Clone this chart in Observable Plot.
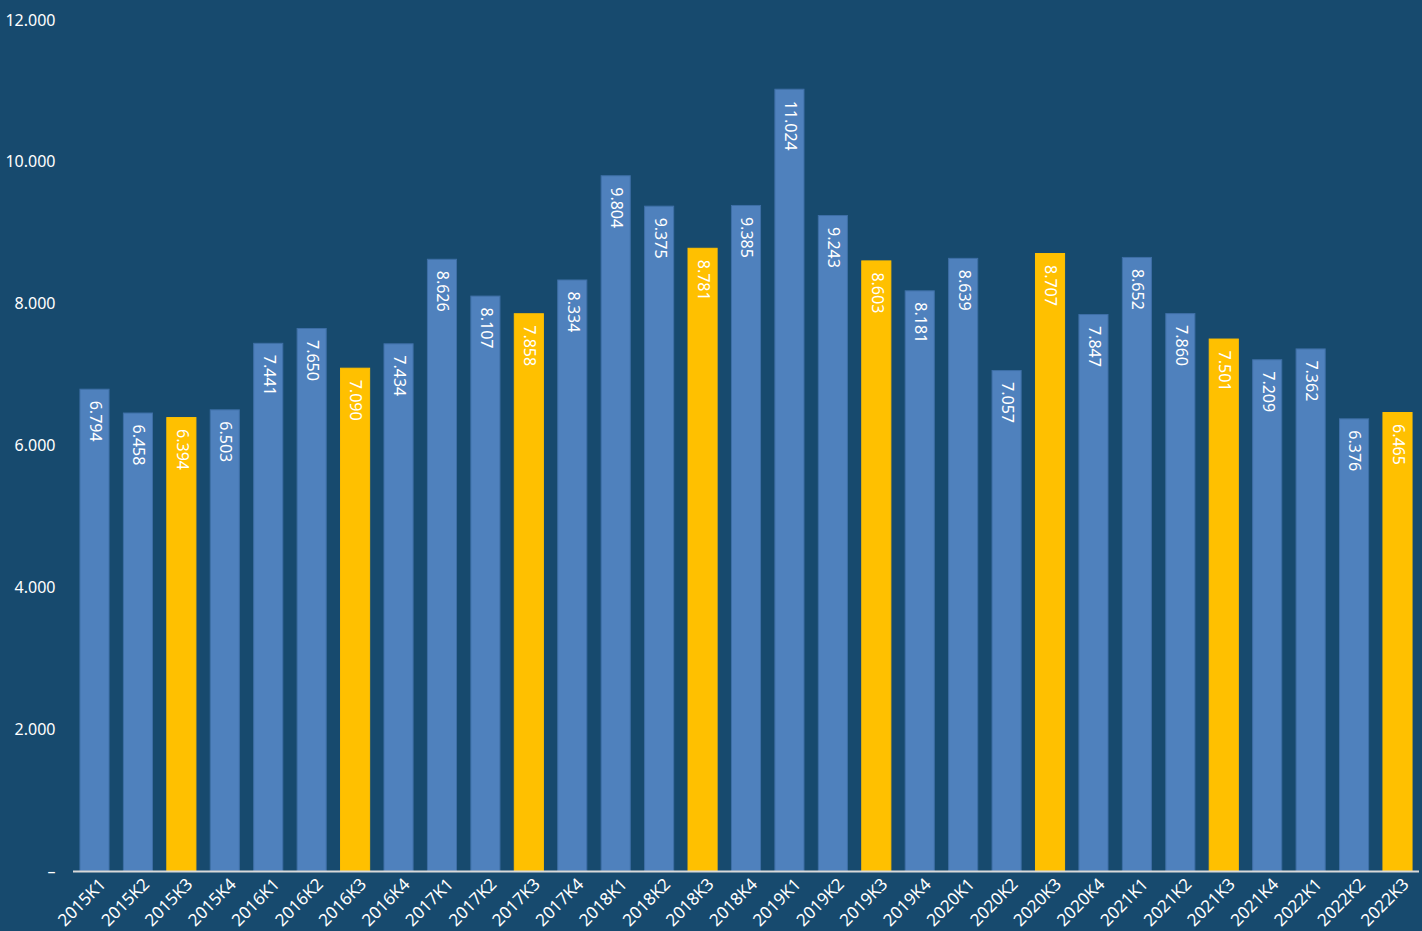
<!DOCTYPE html>
<html>
<head>
<meta charset="utf-8">
<script src="https://cdn.jsdelivr.net/npm/d3@7"></script>
<script src="https://cdn.jsdelivr.net/npm/@observablehq/plot@0.6"></script>
<style>
  html, body { margin: 0; padding: 0; background: #174a6e; }
  #chart svg { display: block; }
</style>
</head>
<body>
<div id="chart"></div>
<script>
const periods = [
  "2015K1","2015K2","2015K3","2015K4",
  "2016K1","2016K2","2016K3","2016K4",
  "2017K1","2017K2","2017K3","2017K4",
  "2018K1","2018K2","2018K3","2018K4",
  "2019K1","2019K2","2019K3","2019K4",
  "2020K1","2020K2","2020K3","2020K4",
  "2021K1","2021K2","2021K3","2021K4",
  "2022K1","2022K2","2022K3"
];
const values = [
  6794, 6458, 6394, 6503,
  7441, 7650, 7090, 7434,
  8626, 8107, 7858, 8334,
  9804, 9375, 8781, 9385,
  11024, 9243, 8603, 8181,
  8639, 7057, 8707, 7847,
  8652, 7860, 7501, 7209,
  7362, 6376, 6465
];
const yTicks = [0, 2000, 4000, 6000, 8000, 10000, 12000];

const data = periods.map((p, i) => ({period: p, value: values[i], q3: p.endsWith("K3")}));
const fmt = v => v === 0 ? "–" : d3.format(",")(v).replace(/,/g, ".");

const chart = Plot.plot({
  width: 1422,
  height: 931,
  marginLeft: 73,
  marginRight: 3,
  marginTop: 20,
  marginBottom: 60,
  style: {background: "#174a6e", color: "#ffffff", fontFamily: "'Noto Sans', 'Open Sans', sans-serif", fontSize: "16px"},
  x: {domain: periods, paddingInner: 0.33, paddingOuter: 0.16, round: false, label: null},
  y: {domain: [0, 12000], label: null},
  marks: [
    Plot.barY(data, {x: "period", y: "value", fill: d => d.q3 ? "#ffc000" : "#4f81bd", stroke: d => d.q3 ? "#ffc000" : "#3e6fa6", strokeWidth: 1}),
    Plot.ruleY([0], {stroke: "#d9d9d9", strokeWidth: 2}),
    Plot.text(data, {x: "period", y: "value", text: d => fmt(d.value), rotate: 90, textAnchor: "start", dy: 11, fill: "#ffffff", fontSize: 16}),
    Plot.axisY({ticks: yTicks, tickFormat: fmt, tickSize: 0, tickPadding: 18, fontSize: 16, fill: "#ffffff", label: null}),
    Plot.axisX({tickSize: 0, tickRotate: -45, tickPadding: 10, dx: 8, fontSize: 17, fill: "#ffffff", label: null})
  ]
});
document.getElementById("chart").appendChild(chart);
</script>
</body>
</html>
